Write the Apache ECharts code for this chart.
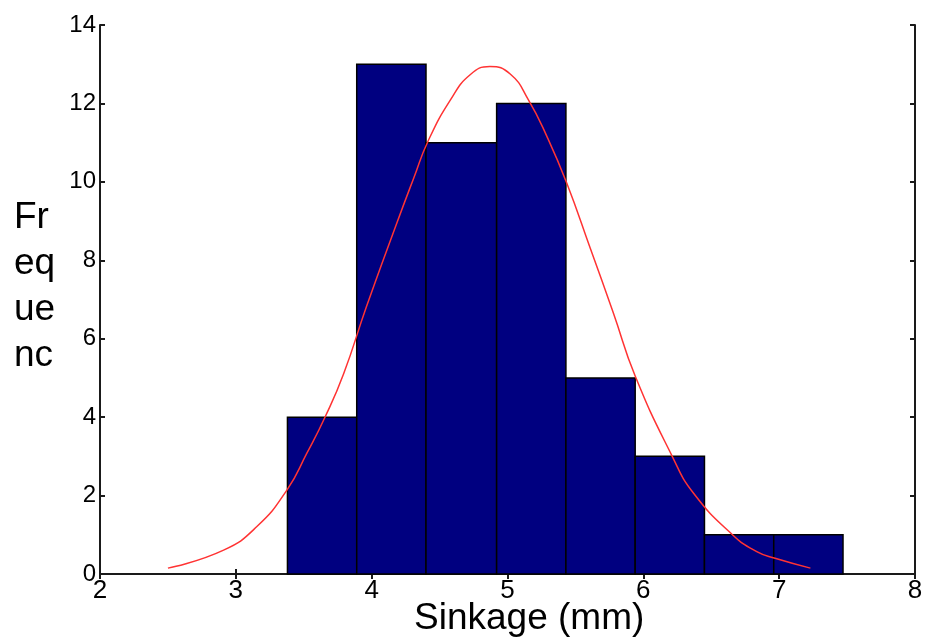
<!DOCTYPE html>
<html>
<head>
<meta charset="utf-8">
<script src="https://cdn.jsdelivr.net/npm/echarts@6/dist/echarts.min.js"></script>
<style>
html,body{margin:0;padding:0;background:#fff;}
#chart{width:927px;height:644px;}
</style>
</head>
<body>
<div id="chart"></div>
<script>
// Histogram bin edges (mm) and counts
const binEdges = [3.38, 3.89, 4.40, 4.92, 5.43, 5.94, 6.45, 6.96, 7.47];
const binCounts = [4, 13, 11, 12, 5, 3, 1, 1];
// Fitted curve points: [sinkage, frequency]
const curvePoints = [
  [2.50,0.15],[2.91,0.61],[3.155,1.21],[3.376,2.14],[3.523,3.08],[3.658,4.01],
  [3.793,5.10],[3.96,6.80],[4.18,8.90],[4.31,10.10],[4.414,11.03],
  [4.58,12.09],[4.725,12.73],[4.87,12.94],[5.02,12.75],[5.154,12.09],[5.29,11.16],
  [5.436,9.97],[5.61,8.30],[5.78,6.65],[5.94,5.05],[6.21,3.02],[6.37,2.06],
  [6.66,0.99],[6.835,0.57],[6.97,0.40],[7.23,0.15]
];
const xTicks = [2, 3, 4, 5, 6, 7, 8];
const yTicks = [0, 2, 4, 6, 8, 10, 12, 14];
const xTitle = 'Sinkage (mm)';
const yTitleLines = ['Fr', 'eq', 'ue', 'nc'];

const histData = binCounts.map((c, i) => [binEdges[i], binEdges[i + 1], c]);

const chart = echarts.init(document.getElementById('chart'), null, {renderer: 'canvas'});
const fontFam = 'Liberation Sans, Arial, sans-serif';
const axisLineStyle = {color: '#1a1a1a', width: 2};

const yTitleGraphics = yTitleLines.map((t, i) => ({
  type: 'text',
  left: 14,
  top: 199 + i * 46,
  style: {text: t, font: '37px ' + fontFam, fill: '#000'}
}));

chart.setOption({
  animation: false,
  backgroundColor: '#fff',
  grid: {left: 100, right: 12, top: 25, bottom: 70},
  xAxis: [{
    type: 'value', min: xTicks[0], max: xTicks[xTicks.length - 1], interval: 1,
    position: 'bottom',
    axisLine: {show: true, lineStyle: axisLineStyle},
    axisTick: {show: true, inside: true, length: 5, lineStyle: axisLineStyle},
    axisLabel: {color: '#000', fontSize: 26, fontFamily: fontFam, margin: 4},
    splitLine: {show: false}
  }, {
    type: 'value', min: xTicks[0], max: xTicks[xTicks.length - 1], interval: 1,
    position: 'top',
    axisLine: {show: true, lineStyle: axisLineStyle},
    axisTick: {show: true, inside: true, length: 5, lineStyle: axisLineStyle},
    axisLabel: {show: false},
    splitLine: {show: false}
  }],
  yAxis: [{
    type: 'value', min: yTicks[0], max: yTicks[yTicks.length - 1], interval: 2,
    position: 'left',
    axisLine: {show: true, lineStyle: axisLineStyle},
    axisTick: {show: true, inside: true, length: 5, lineStyle: axisLineStyle},
    axisLabel: {color: '#000', fontSize: 24, fontFamily: fontFam, margin: 4},
    splitLine: {show: false}
  }, {
    type: 'value', min: yTicks[0], max: yTicks[yTicks.length - 1], interval: 2,
    position: 'right',
    axisLine: {show: true, lineStyle: axisLineStyle},
    axisTick: {show: true, inside: true, length: 5, lineStyle: axisLineStyle},
    axisLabel: {show: false},
    splitLine: {show: false}
  }],
  graphic: [
    {
      type: 'text',
      left: 414,
      top: 600,
      style: {text: xTitle, font: '37px ' + fontFam, fill: '#000'}
    }
  ].concat(yTitleGraphics),
  series: [{
    type: 'custom',
    xAxisIndex: 0, yAxisIndex: 0,
    data: histData,
    encode: {x: [0, 1], y: 2},
    renderItem: function (params, api) {
      const p0 = api.coord([api.value(0), 0]);
      const p1 = api.coord([api.value(1), api.value(2)]);
      return {
        type: 'rect',
        shape: {x: p0[0], y: p1[1], width: p1[0] - p0[0], height: p0[1] - p1[1]},
        style: {fill: '#000080', stroke: '#000', lineWidth: 1.5}
      };
    },
    z: 2
  }, {
    type: 'line',
    xAxisIndex: 0, yAxisIndex: 0,
    data: curvePoints,
    smooth: 0.5,
    showSymbol: false,
    lineStyle: {color: '#ff3333', width: 1.5},
    z: 3
  }]
});
</script>
</body>
</html>
